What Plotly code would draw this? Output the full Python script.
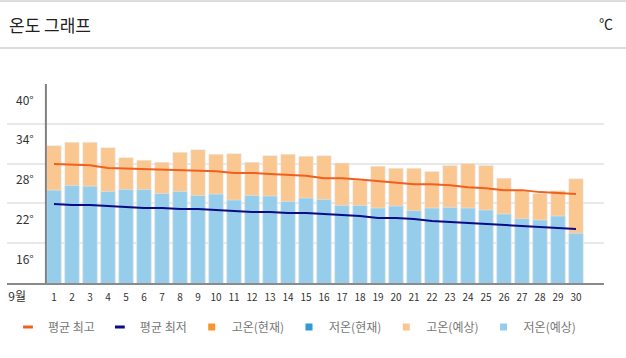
import plotly.graph_objects as go

days = list(range(1, 31))
day_labels = [str(d) for d in days]
month_label = "9월"

high_expected = [30.7, 31.2, 31.2, 30.4, 28.9, 28.5, 28.2, 29.7, 30.1, 29.4,
                 29.5, 28.2, 29.2, 29.4, 29.1, 29.2, 28.1, 25.5, 27.6, 27.3,
                 27.3, 26.8, 27.7, 28.0, 27.7, 25.8, 24.0, 23.5, 23.9, 25.7]
low_expected = [24.0, 24.7, 24.6, 23.8, 24.1, 24.1, 23.5, 23.8, 23.2, 23.4,
                22.5, 23.2, 23.1, 22.3, 22.8, 22.6, 21.7, 21.7, 21.3, 21.6,
                20.9, 21.3, 21.4, 21.3, 21.0, 20.4, 19.7, 19.5, 20.1, 17.5]
avg_high = [27.95, 27.85, 27.75, 27.35, 27.25, 27.25, 27.1, 26.95, 26.85, 26.85,
            26.6, 26.6, 26.45, 26.3, 26.15, 25.8, 25.8, 25.6, 25.35, 25.2,
            24.9, 24.9, 24.75, 24.45, 24.3, 24.0, 24.0, 23.7, 23.55, 23.4]
avg_low = [21.9, 21.75, 21.75, 21.6, 21.45, 21.3, 21.3, 21.15, 21.15, 21.0,
           20.85, 20.7, 20.7, 20.55, 20.55, 20.45, 20.25, 20.1, 19.8, 19.8,
           19.65, 19.35, 19.2, 19.05, 18.9, 18.75, 18.6, 18.45, 18.3, 18.15]
y_ticks = [16, 22, 28, 34, 40]

C_AVG_HIGH = "#F0601E"
C_AVG_LOW = "#0B0B85"
C_HIGH_NOW = "#F7962F"
C_LOW_NOW = "#2E9AD6"
C_HIGH_EXP = "#FAC791"
C_LOW_EXP = "#95CDEA"
FONT = "Noto Sans CJK KR"

fig = go.Figure()
fig.add_bar(x=days, y=high_expected, marker_color=C_HIGH_EXP, width=0.8,
            showlegend=False, hoverinfo="skip")
fig.add_bar(x=days, y=low_expected, marker_color=C_LOW_EXP, width=0.8,
            showlegend=False, hoverinfo="skip")
fig.add_scatter(x=days, y=avg_high, mode="lines", line=dict(color=C_AVG_HIGH, width=2),
                showlegend=False)
fig.add_scatter(x=days, y=avg_low, mode="lines", line=dict(color=C_AVG_LOW, width=2),
                showlegend=False)

# legend entries
legend_items = [
    ("평균 최고", "line-ew", C_AVG_HIGH),
    ("평균 최저", "line-ew", C_AVG_LOW),
    ("고온(현재)", "square", C_HIGH_NOW),
    ("저온(현재)", "square", C_LOW_NOW),
    ("고온(예상)", "square", C_HIGH_EXP),
    ("저온(예상)", "square", C_LOW_EXP),
]
for name, sym, col in legend_items:
    if sym == "line-ew":
        mk = dict(symbol=sym, size=7, line=dict(color=col, width=3))
    else:
        mk = dict(symbol=sym, size=7, color=col, line=dict(width=0))
    fig.add_scatter(x=[None], y=[None], mode="markers", name=name, marker=mk)

fig.update_layout(
    width=626, height=358,
    margin=dict(l=7, r=22, t=84, b=75),
    paper_bgcolor="white", plot_bgcolor="white",
    barmode="overlay",
    font=dict(family=FONT, color="#333"),
    showlegend=True,
    legend=dict(orientation="h", xref="container", yref="container",
                x=8 / 626, y=1 - 327 / 358, yanchor="middle", xanchor="left",
                itemwidth=30, font=dict(size=12, color="#777"),
                itemclick=False, itemdoubleclick=False),
    xaxis=dict(range=[-1.611, 31.556], showgrid=False, zeroline=False,
               tickmode="array",
               tickvals=[-1.05] + days,
               ticktext=["<span style='font-size:12px'>" + month_label + "</span>"] + day_labels,
               tickfont=dict(size=10, color="#333"), ticklabelstandoff=4,
               ticks="", showline=True, linecolor="#8a8a8a", linewidth=2),
    yaxis=dict(range=[10, 40], tickmode="array", tickvals=y_ticks,
               showticklabels=False, showgrid=True, gridcolor="#e9e9e9",
               gridwidth=2, zeroline=False, showline=False),
)

# y axis vertical line
fig.add_shape(type="line", xref="x", yref="y", x0=0.55, x1=0.55, y0=10, y1=40,
              line=dict(color="#808080", width=2), layer="above")

for t in y_ticks:
    fig.add_annotation(xref="paper", yref="y", x=29 / 597, y=t, yshift=-15,
                       text=f"{t}°", showarrow=False, xanchor="right",
                       yanchor="middle", font=dict(size=12, color="#333"))

# header
fig.add_annotation(xref="paper", yref="paper", x=0 / 597, y=1 + 60 / 199,
                   text="온도 그래프", showarrow=False, xanchor="left",
                   yanchor="middle", font=dict(size=17, color="#222"))
fig.add_annotation(xref="paper", yref="paper", x=(615 - 7) / 597, y=1 + 61 / 199,
                   text="℃", showarrow=False, xanchor="right",
                   yanchor="middle", font=dict(size=14, color="#222"))
fig.add_shape(type="line", xref="paper", yref="paper", x0=-7 / 597, x1=619 / 597,
              y0=1 + 83 / 199, y1=1 + 83 / 199, line=dict(color="#dddddd", width=2))
fig.add_shape(type="line", xref="paper", yref="paper", x0=-7 / 597, x1=619 / 597,
              y0=1 + 36 / 199, y1=1 + 36 / 199, line=dict(color="#dddddd", width=2))

fig.write_html("out.html", config={"displayModeBar": False},
               post_script="document.body.style.margin='0';")
